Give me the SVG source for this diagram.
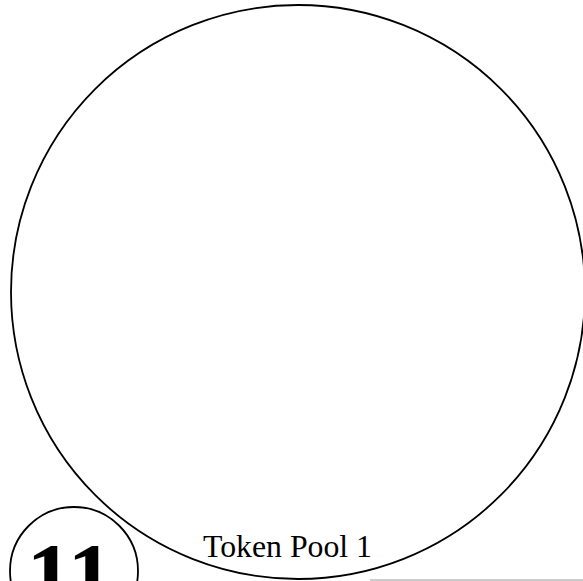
<svg xmlns="http://www.w3.org/2000/svg" width="583" height="581" viewBox="0 0 583 581">
<style>
.ring{fill:none;stroke:#000;stroke-width:1.8}
.lbl{font-family:"Liberation Serif",serif;fill:#000}
</style>
<rect width="583" height="581" fill="#fff"/>
<g id="pool">
<circle class="ring" cx="298" cy="292" r="287"/>
<text class="lbl" x="203" y="557" font-size="32" textLength="169" lengthAdjust="spacingAndGlyphs">Token Pool 1</text>
</g>
<g id="badge">
<circle class="ring" cx="74" cy="571" r="64"/>
<text class="lbl" x="70" y="606" font-size="92" font-weight="bold" text-anchor="middle">11</text>
</g>
<g id="connectors">
<line x1="370" y1="580" x2="583" y2="580" stroke="#999" stroke-width="1"/>
</g>
</svg>
